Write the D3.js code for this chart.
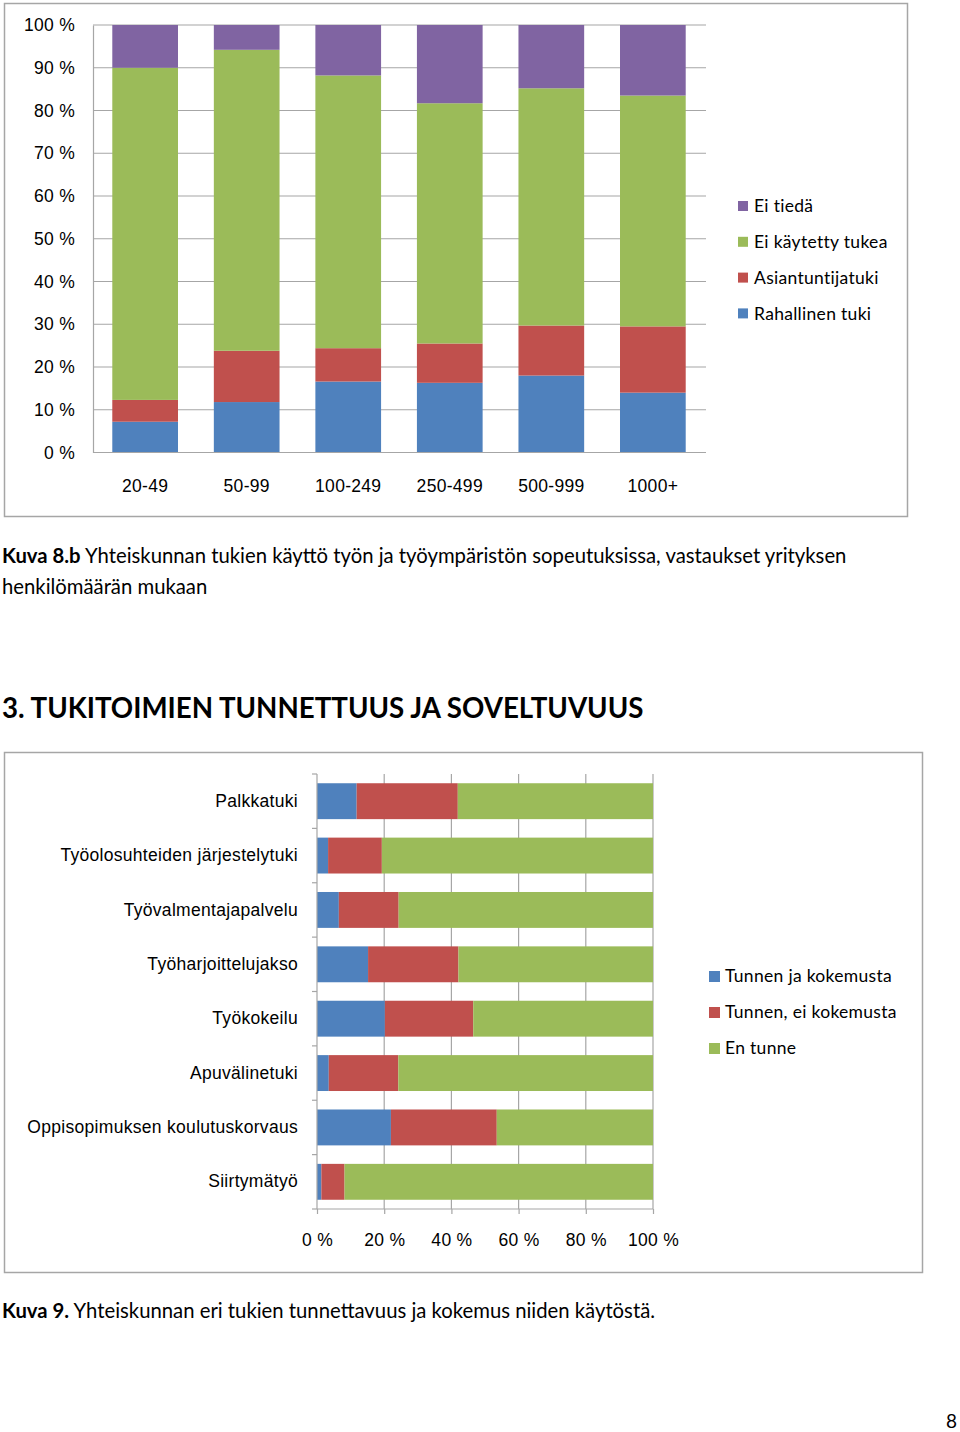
<!DOCTYPE html>
<html>
<head>
<meta charset="utf-8">
<script src="https://cdn.jsdelivr.net/npm/d3@7"></script>
<style>
  body { margin: 0; background: #fff; }
  svg { display: block; font-family: Lato, "Open Sans", sans-serif; }
  .lbl { font-size: 17.5px; letter-spacing: 0.3px; fill: #000; }
</style>
</head>
<body>
<svg width="960" height="1432"></svg>
<script>
// Chart 1: support use by company size (stacked %, bottom to top)
const sizeGroups = ["20-49", "50-99", "100-249", "250-499", "500-999", "1000+"];
const rahallinen = [7.2, 11.8, 16.6, 16.3, 18.0, 14.0];
const asiantuntija = [5.1, 12.0, 7.8, 9.2, 11.7, 15.5];
const eiKaytetty = [77.7, 70.4, 63.8, 56.2, 55.5, 54.0];
const eiTieda = [10.0, 5.8, 11.8, 18.3, 14.8, 16.5];
const series1 = ["Rahallinen tuki", "Asiantuntijatuki", "Ei käytetty tukea", "Ei tiedä"];

// Chart 2: familiarity with supports (stacked horizontal %)
const supports = ["Palkkatuki", "Työolosuhteiden järjestelytuki", "Työvalmentajapalvelu",
  "Työharjoittelujakso", "Työkokeilu", "Apuvälinetuki",
  "Oppisopimuksen koulutuskorvaus", "Siirtymätyö"];
const tunnenKokemus = [11.8, 3.3, 6.5, 15.2, 20.2, 3.5, 22.0, 1.3];
const tunnenEi = [30.1, 16.0, 17.8, 26.9, 26.3, 20.7, 31.5, 6.9];
const enTunne = [58.1, 80.7, 75.7, 57.9, 53.5, 75.8, 46.5, 91.8];
const series2 = ["Tunnen ja kokemusta", "Tunnen, ei kokemusta", "En tunne"];

const colors1 = ["#4f81bd", "#c0504d", "#9bbb59", "#8064a2"];
const colors2 = ["#4f81bd", "#c0504d", "#9bbb59"];
const grid = "#a6a6a6";

const svg = d3.select("svg");

// ---------- chart 1 ----------
svg.append("rect").attr("x", 4.5).attr("y", 3.5).attr("width", 903).attr("height", 513)
   .attr("fill", "#fff").attr("stroke", "#a6a6a6").attr("stroke-width", 1.5);

const x1 = d3.scaleBand().domain(sizeGroups).range([93, 705]).paddingInner(0.353).paddingOuter(0.19);
const y1 = d3.scaleLinear().domain([0, 100]).range([452.5, 25]);

const g1 = svg.append("g");
g1.append("g")
  .selectAll("line").data(d3.range(10, 101, 10)).join("line")
  .attr("x1", 93).attr("x2", 706)
  .attr("y1", d => y1(d)).attr("y2", d => y1(d))
  .attr("stroke", grid).attr("stroke-width", 1.2);

const rows1 = sizeGroups.map((g, i) => ({ g, v: [rahallinen[i], asiantuntija[i], eiKaytetty[i], eiTieda[i]] }));
series1.forEach((s, k) => {
  g1.append("g").attr("fill", colors1[k])
    .selectAll("rect").data(rows1).join("rect")
    .attr("x", d => x1(d.g))
    .attr("width", x1.bandwidth())
    .attr("y", d => y1(d3.sum(d.v.slice(0, k + 1))))
    .attr("height", d => y1(d3.sum(d.v.slice(0, k))) - y1(d3.sum(d.v.slice(0, k + 1))));
});

const yAxis1 = d3.axisLeft(y1).tickValues(d3.range(0, 101, 10)).tickSize(0).tickPadding(18)
  .tickFormat(d => d + " %");
g1.append("g").attr("transform", "translate(93,0)").call(yAxis1)
  .call(g => g.select(".domain").attr("stroke", grid).attr("stroke-width", 1.2))
  .selectAll("text").attr("class", "lbl").attr("font-size", null).attr("font-family", null).attr("fill", null);

const xAxis1 = d3.axisBottom(x1).tickSize(0).tickPadding(27);
g1.append("g").attr("transform", "translate(0,452.5)").call(xAxis1)
  .call(g => g.select(".domain").attr("stroke", grid).attr("stroke-width", 1.2).attr("d", "M93,0H706"))
  .selectAll("text").attr("class", "lbl").attr("font-size", null).attr("font-family", null).attr("fill", null);

const leg1 = g1.append("g").selectAll("g").data(series1.slice().reverse()).join("g")
  .attr("transform", (d, i) => `translate(738,${206 + i * 35.8})`);
leg1.append("rect").attr("x", 0).attr("y", -5).attr("width", 10).attr("height", 10)
  .attr("fill", d => colors1[series1.indexOf(d)]);
leg1.append("text").attr("class", "lbl").attr("x", 16).attr("dy", "0.35em").text(d => d);

// captions
const cap1 = svg.append("text").attr("x", 2).attr("y", 563).attr("font-size", 20.3);
cap1.append("tspan").attr("font-weight", "bold").text("Kuva 8.b");
cap1.append("tspan").text(" Yhteiskunnan tukien käyttö työn ja työympäristön sopeutuksissa, vastaukset yrityksen");
svg.append("text").attr("x", 2).attr("y", 594).attr("font-size", 20.3).text("henkilömäärän mukaan");

svg.append("text").attr("x", 2).attr("y", 718).attr("font-size", 27.7).attr("font-weight", "bold")
  .text("3. TUKITOIMIEN TUNNETTUUS JA SOVELTUVUUS");

// ---------- chart 2 ----------
svg.append("rect").attr("x", 4.5).attr("y", 752.5).attr("width", 918).attr("height", 520)
   .attr("fill", "#fff").attr("stroke", "#a6a6a6").attr("stroke-width", 1.5);

const x2 = d3.scaleLinear().domain([0, 100]).range([317, 653]);
const y2 = d3.scaleBand().domain(supports).range([774, 1209]).paddingInner(0.34).paddingOuter(0.17);
const g2 = svg.append("g");

g2.append("g").selectAll("line").data(d3.range(20, 101, 20)).join("line")
  .attr("x1", d => x2(d)).attr("x2", d => x2(d))
  .attr("y1", 774).attr("y2", 1209)
  .attr("stroke", grid).attr("stroke-width", 1.2);

const rows2 = supports.map((s, i) => ({ s, v: [tunnenKokemus[i], tunnenEi[i], enTunne[i]] }));
series2.forEach((s, k) => {
  g2.append("g").attr("fill", colors2[k])
    .selectAll("rect").data(rows2).join("rect")
    .attr("y", d => y2(d.s))
    .attr("height", y2.bandwidth())
    .attr("x", d => x2(d3.sum(d.v.slice(0, k))))
    .attr("width", d => x2(d3.sum(d.v.slice(0, k + 1))) - x2(d3.sum(d.v.slice(0, k))));
});

// category axis with ticks at band boundaries
const yAxis2 = d3.axisLeft(y2).tickSize(0).tickPadding(19);
g2.append("g").attr("transform", "translate(317,0)").call(yAxis2)
  .call(g => g.select(".domain").attr("stroke", grid).attr("stroke-width", 1.2).attr("d", "M0,774V1209"))
  .selectAll("text").attr("class", "lbl").attr("font-size", null).attr("font-family", null).attr("fill", null);
const step2 = (1209 - 774) / supports.length;
g2.append("g").selectAll("line").data(d3.range(supports.length + 1)).join("line")
  .attr("x1", 312).attr("x2", 317)
  .attr("y1", i => 774 + i * step2).attr("y2", i => 774 + i * step2)
  .attr("stroke", grid).attr("stroke-width", 1.2);

const xAxis2 = d3.axisBottom(x2).tickValues(d3.range(0, 101, 20)).tickSize(5).tickPadding(20)
  .tickFormat(d => d + " %");
g2.append("g").attr("transform", "translate(0,1209)").call(xAxis2)
  .call(g => g.select(".domain").attr("stroke", grid).attr("stroke-width", 1.2).attr("d", "M317,0H653"))
  .call(g => g.selectAll(".tick line").attr("stroke", grid).attr("stroke-width", 1.2))
  .selectAll("text").attr("class", "lbl").attr("font-size", null).attr("font-family", null).attr("fill", null);

const leg2 = g2.append("g").selectAll("g").data(series2).join("g")
  .attr("transform", (d, i) => `translate(709,${976 + i * 36})`);
leg2.append("rect").attr("x", 0).attr("y", -5).attr("width", 11).attr("height", 11)
  .attr("fill", (d, i) => colors2[i]);
leg2.append("text").attr("class", "lbl").attr("x", 16).attr("dy", "0.35em").text(d => d);

const cap2 = svg.append("text").attr("x", 2).attr("y", 1318).attr("font-size", 20.3);
cap2.append("tspan").attr("font-weight", "bold").text("Kuva 9.");
cap2.append("tspan").text(" Yhteiskunnan eri tukien tunnettavuus ja kokemus niiden käytöstä.");

svg.append("text").attr("x", 946).attr("y", 1428).attr("font-size", 19).text("8");
</script>
</body>
</html>
